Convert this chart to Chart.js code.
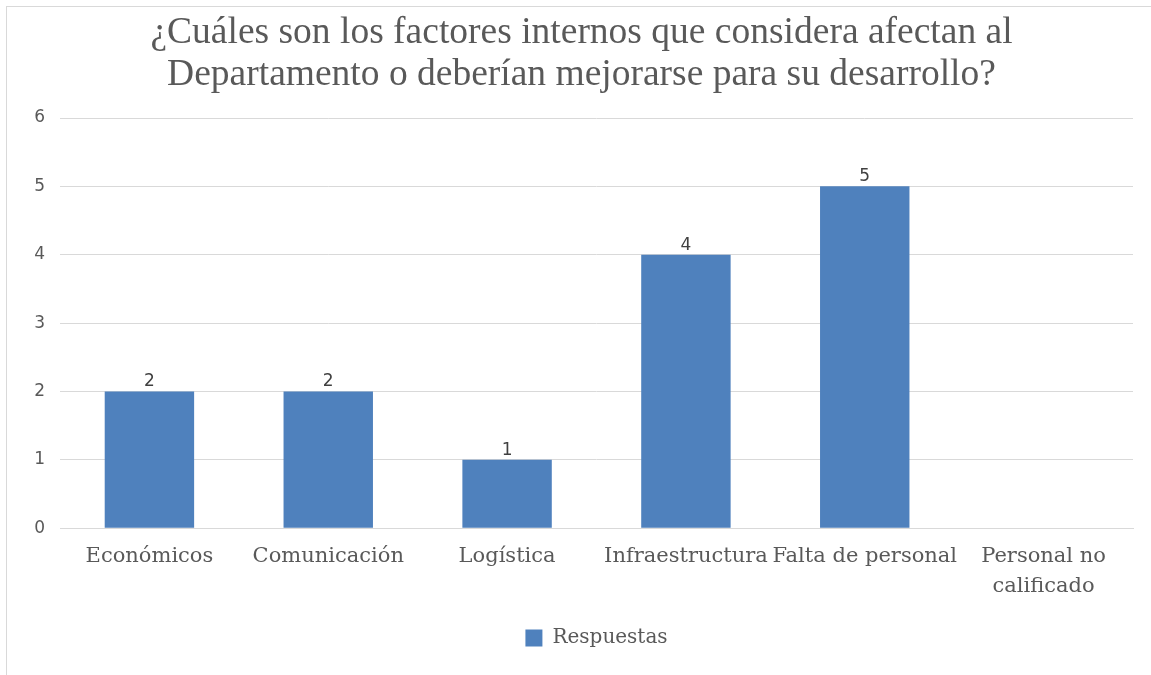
<!DOCTYPE html>
<html>
<head>
<meta charset="utf-8">
<script src="https://cdn.jsdelivr.net/npm/chart.js@4"></script>
<style>
  html, body { margin: 0; padding: 0; background: #fff; }
  #wrap { position: relative; width: 1151px; height: 675px; overflow: hidden; }
  #frame { position: absolute; left: 6px; top: 6px; width: 1160px; height: 700px; border-left: 1px solid #d9d9d9; border-top: 1px solid #d9d9d9; }
  canvas { position: absolute; left: 0; top: 0; }
</style>
</head>
<body>
<div id="wrap">
  <div id="frame"></div>
  <canvas id="c" width="1151" height="675"></canvas>
</div>
<script>
const categories = ["Económicos", "Comunicación", "Logística", "Infraestructura", "Falta de personal", ["Personal no", "calificado"]];
const respuestas = [2, 2, 1, 4, 5, null];
const seriesName = "Respuestas";
const titleLines = ["¿Cuáles son los factores internos que considera afectan al", "Departamento o deberían mejorarse para su desarrollo?"];

const barColor = "#4f81bd";
const textColor = "#595959";

const dataLabels = {
  id: "dataLabels",
  afterDatasetsDraw(chart) {
    const ctx = chart.ctx;
    const meta = chart.getDatasetMeta(0);
    ctx.save();
    ctx.font = "17px 'DejaVu Sans'";
    ctx.fillStyle = "#404040";
    ctx.textAlign = "center";
    ctx.textBaseline = "bottom";
    meta.data.forEach((bar, i) => {
      const v = chart.data.datasets[0].data[i];
      if (v === null || v === undefined) return;
      ctx.fillText(String(v), bar.x, bar.y - 1);
    });
    ctx.restore();
  }
};

new Chart(document.getElementById("c"), {
  type: "bar",
  data: {
    labels: categories,
    datasets: [{
      label: seriesName,
      data: respuestas,
      backgroundColor: barColor,
      borderWidth: 0,
      barPercentage: 0.5,
      categoryPercentage: 1.0
    }]
  },
  options: {
    responsive: false,
    animation: false,
    layout: { padding: { left: 30, right: 18, top: 12, bottom: 17 } },
    plugins: {
      title: {
        display: true,
        text: titleLines,
        color: textColor,
        font: { family: "'Liberation Serif'", size: 37.5, weight: "normal", lineHeight: 1.12 },
        padding: { top: 0, bottom: 22 }
      },
      legend: {
        position: "bottom",
        fullSize: false,
        labels: {
          color: textColor,
          font: { family: "'DejaVu Serif'", size: 20 },
          boxWidth: 17,
          boxHeight: 17,
          padding: 13
        }
      },
      tooltip: { enabled: false }
    },
    scales: {
      x: {
        grid: { display: false, drawTicks: false },
        border: { color: "#d9d9d9", width: 1 },
        ticks: {
          color: textColor,
          font: { family: "'DejaVu Serif'", size: 21, lineHeight: 1.4 },
          padding: 14,
          maxRotation: 0,
          autoSkip: false
        }
      },
      y: {
        min: 0,
        max: 6,
        grid: { color: "#d9d9d9", lineWidth: 1, drawTicks: false },
        border: { display: false },
        ticks: {
          stepSize: 1,
          color: textColor,
          font: { family: "'DejaVu Sans'", size: 17 },
          padding: 15
        },
        afterFit(scale) { scale.width = 30; }
      }
    }
  },
  plugins: [dataLabels]
});
</script>
</body>
</html>
